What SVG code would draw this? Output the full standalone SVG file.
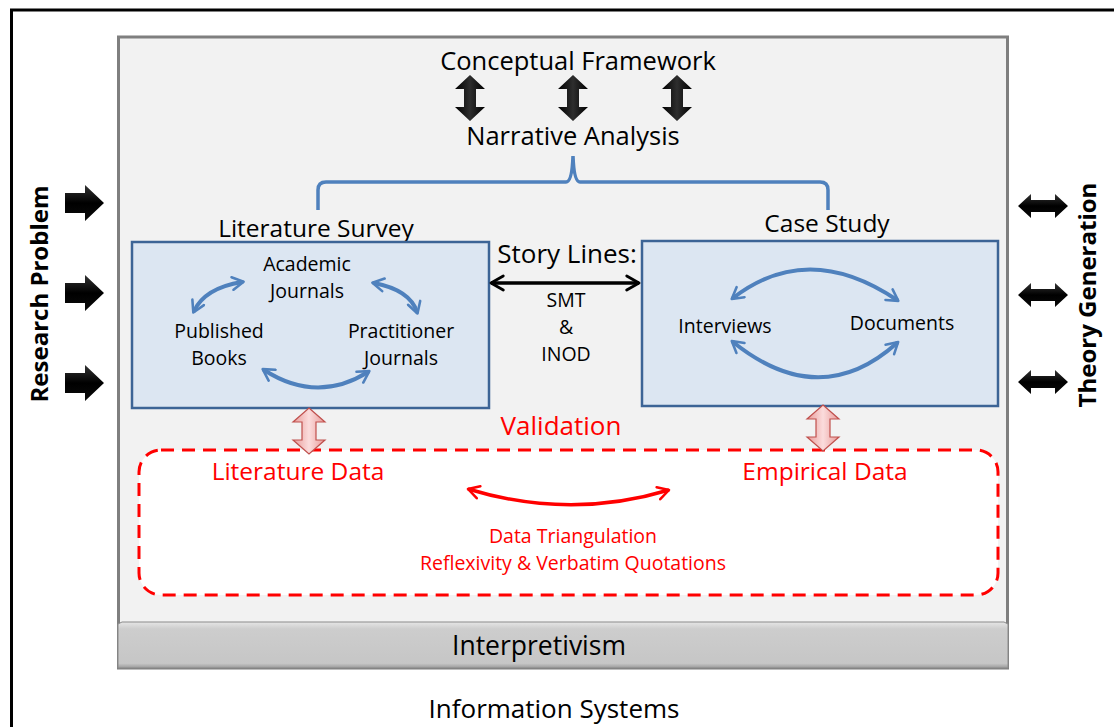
<svg xmlns="http://www.w3.org/2000/svg" width="1114" height="727" viewBox="0 0 1114 727">
<defs>
<style>
text{font-family:"Open Sans","Noto Sans","Liberation Sans",sans-serif;fill:#000}
.t26{font-size:25.5px}
.t24{font-size:24.5px}
.t18{font-size:19.5px}
.red{fill:#ff0000}
.bold{font-weight:bold;font-size:24px}
.blue{fill:none;stroke:#4f81bd;stroke-width:4;stroke-linecap:round}
.box{fill:#dce6f2;stroke:#3c6496;stroke-width:2.5}
</style>
<linearGradient id="gBlk" x1="0" y1="0" x2="0" y2="1">
<stop offset="0" stop-color="#333"/><stop offset="0.5" stop-color="#000"/><stop offset="1" stop-color="#0a0a0a"/>
</linearGradient>
<linearGradient id="gBlkV" x1="0" y1="0" x2="1" y2="0">
<stop offset="0" stop-color="#000"/><stop offset="0.5" stop-color="#2e2e2e"/><stop offset="1" stop-color="#000"/>
</linearGradient>
<linearGradient id="gPink" x1="0" y1="0" x2="1" y2="0">
<stop offset="0" stop-color="#e89a98"/><stop offset="0.5" stop-color="#fbdcdc"/><stop offset="1" stop-color="#e89a98"/>
</linearGradient>
<linearGradient id="gBar" x1="0" y1="0" x2="0" y2="1">
<stop offset="0" stop-color="#e6e6e6"/><stop offset="0.15" stop-color="#cdcdcd"/><stop offset="0.9" stop-color="#c6c6c6"/><stop offset="1" stop-color="#9a9a9a"/>
</linearGradient>
<path id="rArrow" d="M0,-10 L20,-10 L20,-18 L39,0 L20,18 L20,10 L0,10 Z"/>
<path id="hDbl" d="M-25,0 L-12,-12 L-12,-6 L12,-6 L12,-12 L25,0 L12,12 L12,6 L-12,6 L-12,12 Z"/>
<path id="vDbl" d="M0,-23 L15,-9 L6,-9 L6,9 L15,9 L0,23 L-15,9 L-6,9 L-6,-9 L-15,-9 Z"/>
<path id="pDbl" d="M0,-23 L16,-9 L7,-9 L7,9 L16,9 L0,23 L-16,9 L-7,9 L-7,-9 L-16,-9 Z"/>
<marker id="bh" viewBox="0 0 10 10" refX="7" refY="5" markerWidth="4" markerHeight="4" orient="auto-start-reverse" markerUnits="strokeWidth">
<path d="M1,1 L8,5 L1,9" fill="none" stroke="#4f81bd" stroke-width="1.6" stroke-linecap="round" stroke-linejoin="round"/>
</marker>
<marker id="kh" viewBox="0 0 10 10" refX="8" refY="5" markerWidth="5" markerHeight="5" orient="auto-start-reverse" markerUnits="strokeWidth">
<path d="M1,1 L8,5 L1,9" fill="none" stroke="#000" stroke-width="1.6" stroke-linecap="round" stroke-linejoin="round"/>
</marker>
<marker id="rh" viewBox="0 0 10 10" refX="8" refY="5" markerWidth="4.5" markerHeight="4.5" orient="auto-start-reverse" markerUnits="strokeWidth">
<path d="M1,1 L8,5 L1,9" fill="none" stroke="#ff0000" stroke-width="1.6" stroke-linecap="round" stroke-linejoin="round"/>
</marker>
</defs>
<rect width="1114" height="727" fill="#fff"/>
<g id="frame">
<path d="M11.5,727 L11.5,10 L1114,10" fill="none" stroke="#000" stroke-width="3"/>
</g>
<g id="research-context">
<rect x="118.5" y="37" width="889" height="631" fill="#f2f2f2" stroke="#7f7f7f" stroke-width="3"/>
</g>
<g id="interpretivism">
<path d="M118,624 L122,622 L1004,622 L1008,624 L1008,668 L118,668 Z" fill="url(#gBar)" stroke="#8a8a8a" stroke-width="1"/>
<text x="539" y="655" text-anchor="middle" style="font-size:26.5px">Interpretivism</text>
</g>
<g id="information-systems">
<text x="554" y="718" text-anchor="middle" style="font-size:26px">Information Systems</text>
</g>
<g id="research-problem">
<text class="bold" transform="translate(48,294) rotate(-90)" text-anchor="middle">Research Problem</text>
<use href="#rArrow" x="65" y="203" fill="url(#gBlk)"/>
<use href="#rArrow" x="65" y="293" fill="url(#gBlk)"/>
<use href="#rArrow" x="65" y="383" fill="url(#gBlk)"/>
</g>
<g id="theory-generation">
<text class="bold" transform="translate(1096,295) rotate(-90)" text-anchor="middle">Theory Generation</text>
<use href="#hDbl" x="1043" y="206" fill="url(#gBlk)"/>
<use href="#hDbl" x="1043" y="295" fill="url(#gBlk)"/>
<use href="#hDbl" x="1043" y="382" fill="url(#gBlk)"/>
</g>
<g id="conceptual-framework">
<text class="t26" x="578" y="70" text-anchor="middle">Conceptual Framework</text>
</g>
<g id="narrative-analysis">
<text class="t26" x="573" y="145" text-anchor="middle">Narrative Analysis</text>
<path d="M318,210 L318,190 Q318,182 326,182 L566,182 Q572,182 573,156 Q574,182 580,182 L820,182 Q828,182 828,190 L828,210" fill="none" stroke="#4f81bd" stroke-width="3.5"/>
</g>
<g id="literature-survey">
<text class="t24" x="316" y="237" text-anchor="middle">Literature Survey</text>
<rect class="box" x="132" y="242" width="357" height="166"/>
<text class="t18" x="307" y="271" text-anchor="middle">Academic</text>
<text class="t18" x="307" y="298" text-anchor="middle">Journals</text>
<text class="t18" x="219" y="338" text-anchor="middle">Published</text>
<text class="t18" x="219" y="365" text-anchor="middle">Books</text>
<text class="t18" x="401" y="338" text-anchor="middle">Practitioner</text>
<text class="t18" x="401" y="365" text-anchor="middle">Journals</text>
</g>
<g id="case-study">
<text class="t24" x="827" y="232" text-anchor="middle">Case Study</text>
<rect class="box" x="642" y="241" width="356" height="165"/>
<text class="t18" x="725" y="333" text-anchor="middle">Interviews</text>
<text class="t18" x="902" y="330" text-anchor="middle">Documents</text>
</g>
<g id="story-lines">
<text x="567" y="263" text-anchor="middle" style="font-size:26px">Story Lines:</text>
<text class="t18" x="566" y="307" text-anchor="middle">SMT</text>
<text class="t18" x="566" y="334" text-anchor="middle">&amp;</text>
<text class="t18" x="566" y="361" text-anchor="middle">INOD</text>
</g>
<g id="validation">
<text class="red" x="561" y="435" text-anchor="middle" style="font-size:26px">Validation</text>
<rect x="139" y="450" width="859" height="145" rx="22" ry="22" fill="#fff" stroke="#ff0000" stroke-width="3" stroke-dasharray="13,8"/>
<text class="t24 red" x="298" y="480" text-anchor="middle">Literature Data</text>
<text class="t24 red" x="825" y="480" text-anchor="middle">Empirical Data</text>
<text class="t18 red" x="573" y="543" text-anchor="middle">Data Triangulation</text>
<text class="t18 red" x="573" y="570" text-anchor="middle">Reflexivity &amp; Verbatim Quotations</text>
</g>
<g id="connectors">
<use href="#vDbl" x="470" y="98" fill="url(#gBlkV)"/>
<use href="#vDbl" x="573" y="98" fill="url(#gBlkV)"/>
<use href="#vDbl" x="677" y="98" fill="url(#gBlkV)"/>
<path class="blue" d="M242,282 Q205,288 194,311" marker-start="url(#bh)" marker-end="url(#bh)"/>
<path class="blue" d="M374,283 Q410,290 417,312" marker-start="url(#bh)" marker-end="url(#bh)"/>
<path class="blue" d="M264,370 Q317,404 368,372" marker-start="url(#bh)" marker-end="url(#bh)"/>
<path class="blue" d="M733,298 Q808,240 897,300" marker-start="url(#bh)" marker-end="url(#bh)"/>
<path class="blue" d="M733,342 Q820,412 897,343" marker-start="url(#bh)" marker-end="url(#bh)"/>
<path d="M491,283 L639,283" fill="none" stroke="#000" stroke-width="3.5" marker-start="url(#kh)" marker-end="url(#kh)"/>
<use href="#pDbl" x="309" y="431" fill="url(#gPink)" stroke="#c0504d" stroke-width="1.2"/>
<use href="#pDbl" x="823" y="428" fill="url(#gPink)" stroke="#c0504d" stroke-width="1.2"/>
<path d="M468,489 Q570,520 669,490" fill="none" stroke="#ff0000" stroke-width="3.5" marker-start="url(#rh)" marker-end="url(#rh)"/>
</g>
</svg>
